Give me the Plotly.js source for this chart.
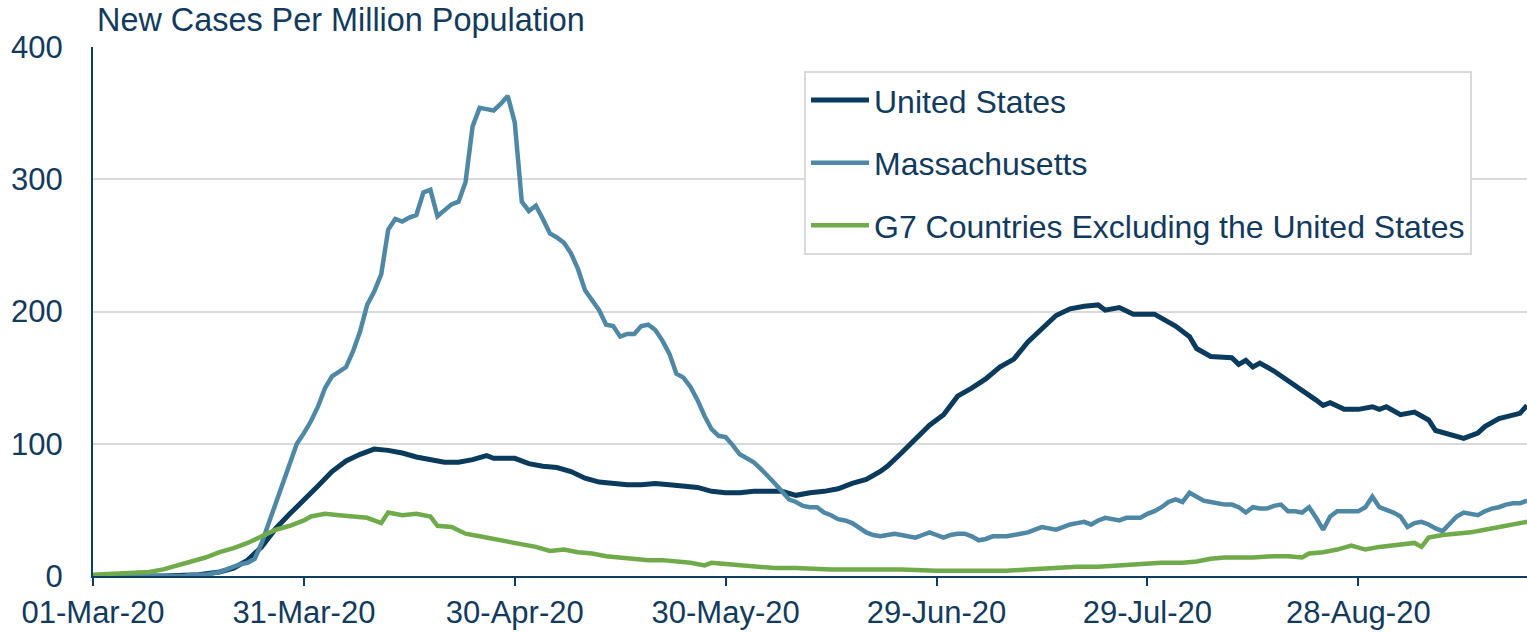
<!DOCTYPE html>
<html>
<head>
<meta charset="utf-8">
<script src="https://cdn.plot.ly/plotly-3.0.1.min.js"></script>
<style>html,body{margin:0;padding:0;background:#fff}#chart{width:1527px;height:632px}</style>
</head>
<body>
<div id="chart"></div>
<script>
// ---- Data ----
const seriesNames = ["United States", "Massachusetts", "G7 Countries Excluding the United States"];

const usDates = ["03-01","03-11","03-16","03-19","03-21","03-23","03-25","03-27","03-29","03-31",
  "04-02","04-04","04-06","04-08","04-10","04-12","04-14","04-16","04-18","04-20","04-22","04-24","04-26","04-27","04-30",
  "05-02","05-04","05-06","05-08","05-10","05-12","05-14","05-16","05-18","05-20","05-22","05-24","05-26","05-28","05-30",
  "06-01","06-03","06-05","06-07","06-09","06-11","06-13","06-15","06-17","06-19","06-21","06-22","06-24","06-26","06-28","06-30",
  "07-02","07-04","07-06","07-08","07-10","07-12","07-14","07-16","07-18","07-20","07-22","07-23","07-25","07-27","07-30",
  "08-02","08-04","08-05","08-07","08-10","08-11","08-12","08-13","08-14","08-16","08-18","08-20","08-22","08-23","08-24","08-26","08-28","08-30","08-31",
  "09-01","09-03","09-05","09-07","09-08","09-10","09-12","09-14","09-15","09-17","09-19","09-20","09-21"];
const usValues = [0,0,1,3,6,12,22,36,47,57,
  68,79,87,92,96,95,93,90,88,86,86,88,91,89,89,
  85,83,82,79,74,71,70,69,69,70,69,68,67,64,63,
  63,64,64,64,61,63,64,66,70,73,79,83,93,103,114,122,
  136,142,149,158,164,177,187,197,202,204,205,201,203,198,198,
  189,181,172,166,165,160,163,158,161,155,148,140,133,129,131,126,126,128,126,
  128,122,124,118,110,107,104,108,113,119,122,123,129];

// Massachusetts: one value per day starting 01-Mar-20
const maStart = "2020-03-01";
const maValues = [0,0,0,0,0,0,0,0,0,0,0,0,0,0,1,
  1,1,2,3,5,7,9,10,13,25,40,54,69,85,100,108,117,128,142,151,155,158,170,185,205,
  215,228,262,270,268,271,273,290,292,272,276,281,283,298,340,354,353,352,357,363,
  343,283,276,280,270,259,256,252,244,232,216,208,201,190,189,181,183,183,189,190,
  186,178,168,153,150,143,133,121,111,106,105,99,92,89,86,81,76,70,64,58,
  56,53,52,52,48,46,43,42,40,36,33,31,30,31,32,31,30,29,31,33,
  31,29,31,32,32,30,27,28,30,30,30,31,32,33,35,37,36,35,37,39,
  40,41,39,42,44,43,42,44,44,44,47,49,52,56,58,56,63,60,57,56,
  55,54,54,52,48,52,51,51,53,54,49,49,48,52,44,35,45,49,49,49,
  49,52,60,52,50,48,45,37,40,41,39,36,34,40,45,48,47,46,49,51,
  52,54,55,55,57];

const g7Dates = ["03-01","03-06","03-09","03-11","03-13","03-15","03-17","03-19","03-21","03-23","03-25","03-27","03-29","03-31",
  "04-01","04-03","04-05","04-07","04-09","04-11","04-12","04-14","04-16","04-18","04-19","04-21","04-23","04-25","04-27","04-29",
  "05-01","05-03","05-05","05-07","05-09","05-11","05-13","05-15","05-17","05-19","05-21","05-23","05-25","05-27","05-28","05-30",
  "06-02","06-04","06-06","06-09","06-14","06-19","06-24","06-29",
  "07-04","07-09","07-12","07-15","07-19","07-22","07-25","07-28","07-31",
  "08-03","08-05","08-07","08-09","08-11","08-13","08-16","08-18","08-20","08-21","08-23","08-25","08-27","08-29","08-31",
  "09-02","09-04","09-05","09-06","09-07","09-09","09-11","09-13","09-15","09-17","09-19","09-21"];
const g7Values = [1,2,3,5,8,11,14,18,21,25,30,35,38,42,
  45,47,46,45,44,40,48,46,47,45,38,37,32,30,28,26,
  24,22,19,20,18,17,15,14,13,12,12,11,10,8,10,9,
  8,7,6,6,5,5,5,4,
  4,4,5,6,7,7,8,9,10,
  10,11,13,14,14,14,15,15,14,17,18,20,23,20,22,
  23,24,25,22,29,31,32,33,35,37,39,41];

const yTicks = [0, 100, 200, 300, 400];

// ---- Build ----
const toDate = md => "2020-" + md;
function dailyDates(start, n) {
  const out = [];
  const t0 = Date.parse(start + "T00:00:00Z");
  for (let i = 0; i < n; i++) out.push(new Date(t0 + i * 86400000).toISOString().slice(0, 10));
  return out;
}

const colors = ["#0a3a5c", "#4f88a5", "#70ab4b"];
const traces = [
  {x: usDates.map(toDate), y: usValues, name: seriesNames[0], line: {color: colors[0], width: 5}},
  {x: dailyDates(maStart, maValues.length), y: maValues, name: seriesNames[1], line: {color: colors[1], width: 4.5}},
  {x: g7Dates.map(toDate), y: g7Values, name: seriesNames[2], line: {color: colors[2], width: 4.5}}
].map((t, i) => Object.assign(t, {type: "scatter", mode: "lines", legendgroup: "g" + i, hoverinfo: "skip"}));

const txt = "#123a5c";
const font = {family: "Liberation Sans, Arial, sans-serif", color: txt};

const layout = {
  width: 1527, height: 632,
  margin: {l: 93, r: 0, t: 47, b: 56},
  paper_bgcolor: "#ffffff", plot_bgcolor: "#ffffff",
  font: Object.assign({size: 31}, font),
  title: {text: "New Cases Per Million Population", font: Object.assign({size: 32.4}, font),
          x: 97 / 1527, xref: "container", xanchor: "left", y: 1 - 20 / 632, yref: "container", yanchor: "middle"},
  showlegend: true,
  legend: {x: (804 - 93) / 1434, y: 0.955, xanchor: "left", yanchor: "top", bordercolor: "#d9d9d9", borderwidth: 2,
           bgcolor: "#ffffff", font: Object.assign({size: 32}, font), traceorder: "grouped", tracegroupgap: 18,
           itemwidth: 58},
  xaxis: {type: "date", range: ["2020-03-01", "2020-09-21"], tick0: "2020-03-01", dtick: 30 * 86400000,
          tickformat: "%d-%b-%y", ticks: "outside", ticklen: 8, tickwidth: 2, tickcolor: "#0e3d60",
          showline: true, linecolor: "#0e3d60", linewidth: 2, showgrid: false, zeroline: false,
          tickfont: Object.assign({size: 31}, font)},
  yaxis: {range: [0, 400], tickvals: yTicks, ticks: "", showline: true, linecolor: "#0e3d60", linewidth: 2,
          showgrid: true, gridcolor: "#d9d9d9", gridwidth: 2, zeroline: false, ticklabelstandoff: 22,
          tickfont: Object.assign({size: 31}, font)}
};

Plotly.newPlot("chart", traces, layout, {staticPlot: true, displayModeBar: false});
</script>
</body>
</html>
